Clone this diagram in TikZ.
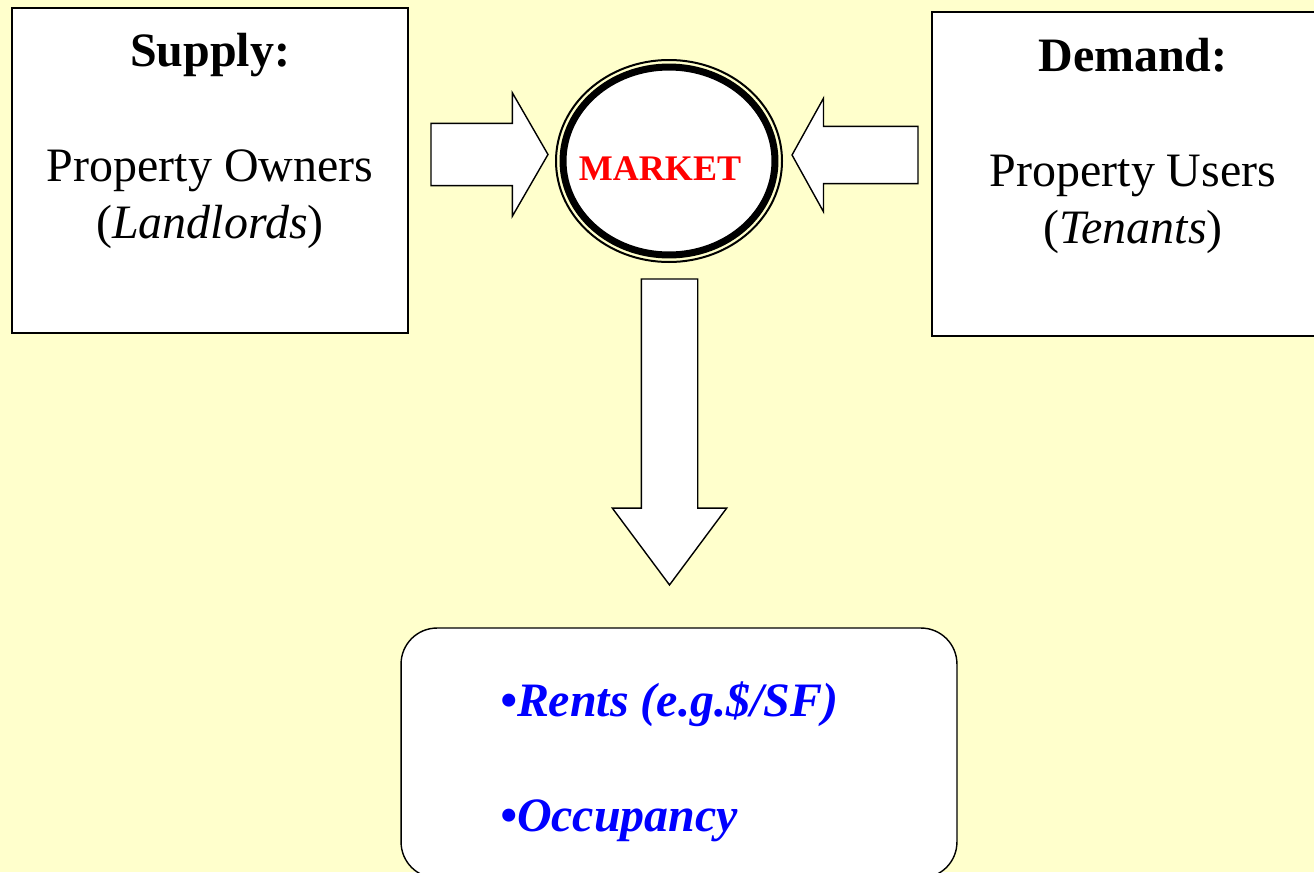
\documentclass[tikz,border=0pt]{standalone}
\usepackage{fontspec}
\setmainfont{Liberation Serif}
\usepackage{xcolor}
\usepackage{tikz}
\usetikzlibrary{shapes, arrows}
\definecolor{slide}{HTML}{FFFFCC}
\tikzstyle{block}=[draw, rectangle, fill=white, line width=0.8pt, inner sep=0pt]
\tikzstyle{fat}=[single arrow, draw, fill=white, line width=0.8pt, outer sep=0pt, anchor=tail]
\newcommand\slidefont{\fontsize{27.3pt}{33pt}\selectfont}
\newcommand\marketfont{\fontsize{20.5pt}{25pt}\selectfont}

\begin{document}
\begin{tikzpicture}[x=0.02cm, y=-0.02cm]
		\clip (0,0) rectangle (1314,872);
		\fill[slide] (0,0) rectangle (1314,872);
		%---------------------
		\node[block, minimum width=7.92cm, minimum height=6.5cm] (S) at (210,170.5) {};
		\node[anchor=base, font=\slidefont\bfseries] (Sh) at (210,66) {Supply:};
		\node[anchor=base, font=\slidefont] (So) at (210,181) {Property Owners};
		\node[anchor=base, font=\slidefont] (Sl) at (210,238) {(\textit{Landlords})};
		%---------------------
		\node[block, minimum width=8.04cm, minimum height=6.48cm] (D) at (1133,174) {};
		\node[anchor=base, font=\slidefont\bfseries] (Dh) at (1133,71) {Demand:};
		\node[anchor=base, font=\slidefont] (Du) at (1133,186) {Property Users};
		\node[anchor=base, font=\slidefont] (Dt) at (1133,243) {(\textit{Tenants})};
		%---------------------
		\node[ellipse, draw, fill=white, line width=0.14cm, minimum width=4.24cm, minimum height=3.76cm, inner sep=0pt] (M) at (669,161) {};
		\draw[line width=0.04cm] (M.center) ellipse [x radius=113, y radius=101];
		\node[anchor=base, font=\marketfont\bfseries, text=red] (Mt) at (660,180) {MARKET};
		%---------------------
		\node[fat, inner sep=0.61cm, minimum height=2.34cm, single arrow head extend=0.61cm, single arrow tip angle=120] (SM) at (431,154.5) {};
		\node[fat, inner sep=0.56cm, minimum height=2.52cm, single arrow head extend=0.56cm, single arrow tip angle=122, shape border rotate=180] (DM) at (918,155) {};
		\node[fat, inner sep=0.55cm, minimum height=6.12cm, single arrow head extend=0.58cm, single arrow tip angle=73.3, shape border rotate=270] (MR) at (669.5,279) {};
		%---------------------
		\node[draw, fill=white, line width=0.8pt, rounded corners=0.72cm, minimum width=11.12cm, minimum height=5cm] (R) at (679,753) {};
		\node[anchor=base west, font=\slidefont\bfseries\itshape, text=blue] (Rr) at (494,716) {\textbullet Rents (e.g.\$/SF)};
		\node[anchor=base west, font=\slidefont\bfseries\itshape, text=blue] (Ro) at (494,831) {\textbullet Occupancy};
	\end{tikzpicture}
\end{document}
